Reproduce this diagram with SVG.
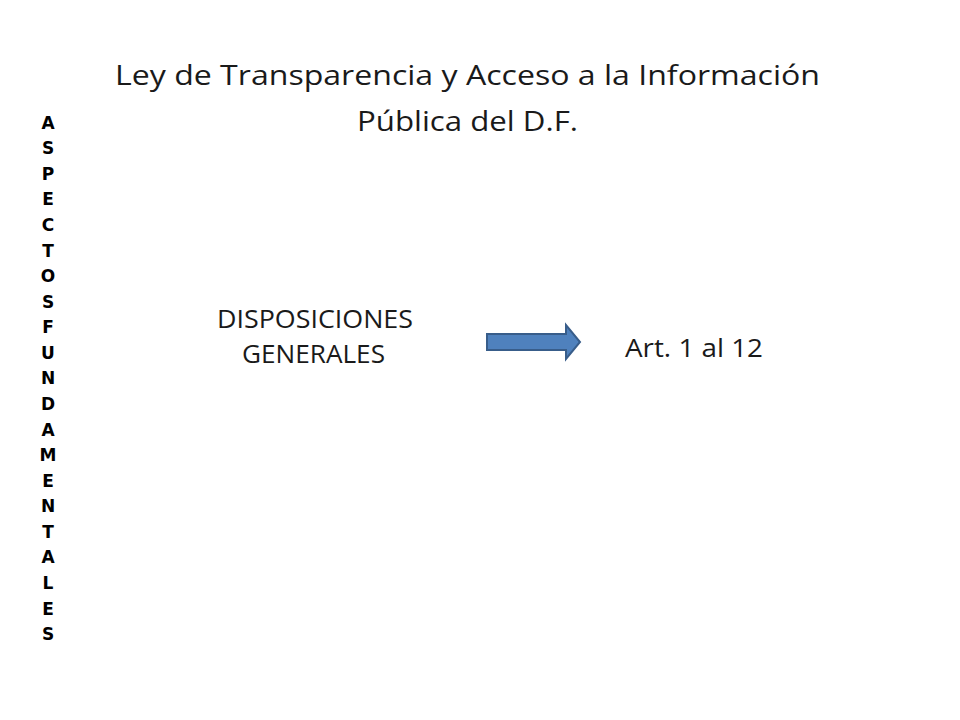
<svg xmlns="http://www.w3.org/2000/svg" width="960" height="720" viewBox="0 0 960 720">
<style>
.t{font-family:"Open Sans","Liberation Sans",sans-serif;fill:#1a1a1a;text-anchor:middle}
.v{font-family:"DejaVu Sans","Liberation Sans",sans-serif;font-weight:bold;font-size:17px;fill:#000;text-anchor:middle}
</style>
<rect width="960" height="720" fill="#fff"/>
<g id="title">
<text class="t" x="467.5" y="85" font-size="28" textLength="705" lengthAdjust="spacingAndGlyphs">Ley de Transparencia y Acceso a la Información</text>
<text class="t" x="467.5" y="131" font-size="28" textLength="221" lengthAdjust="spacingAndGlyphs">Pública del D.F.</text>
</g>
<g id="vertical">
<text class="v" x="48" y="129">A</text>
<text class="v" x="48" y="154">S</text>
<text class="v" x="48" y="180">P</text>
<text class="v" x="48" y="205">E</text>
<text class="v" x="48" y="231">C</text>
<text class="v" x="48" y="257">T</text>
<text class="v" x="48" y="282">O</text>
<text class="v" x="48" y="308">S</text>
<text class="v" x="48" y="333">F</text>
<text class="v" x="48" y="359">U</text>
<text class="v" x="48" y="384">N</text>
<text class="v" x="48" y="410">D</text>
<text class="v" x="48" y="436">A</text>
<text class="v" x="48" y="461">M</text>
<text class="v" x="48" y="487">E</text>
<text class="v" x="48" y="512">N</text>
<text class="v" x="48" y="538">T</text>
<text class="v" x="48" y="563">A</text>
<text class="v" x="48" y="589">L</text>
<text class="v" x="48" y="615">E</text>
<text class="v" x="48" y="640">S</text>
</g>
<g id="disposiciones">
<text class="t" x="315" y="328" font-size="25" textLength="196" lengthAdjust="spacingAndGlyphs">DISPOSICIONES</text>
<text class="t" x="313.5" y="363" font-size="25" textLength="143" lengthAdjust="spacingAndGlyphs">GENERALES</text>
</g>
<g id="connectors">
<path d="M487,334 H566 V325 L580,342 L566,359 V350 H487 Z" fill="#4F81BD" stroke="#385D8A" stroke-width="2"/>
</g>
<g id="art">
<text class="t" x="694" y="357" font-size="25" textLength="138" lengthAdjust="spacingAndGlyphs">Art. 1 al 12</text>
</g>
</svg>
